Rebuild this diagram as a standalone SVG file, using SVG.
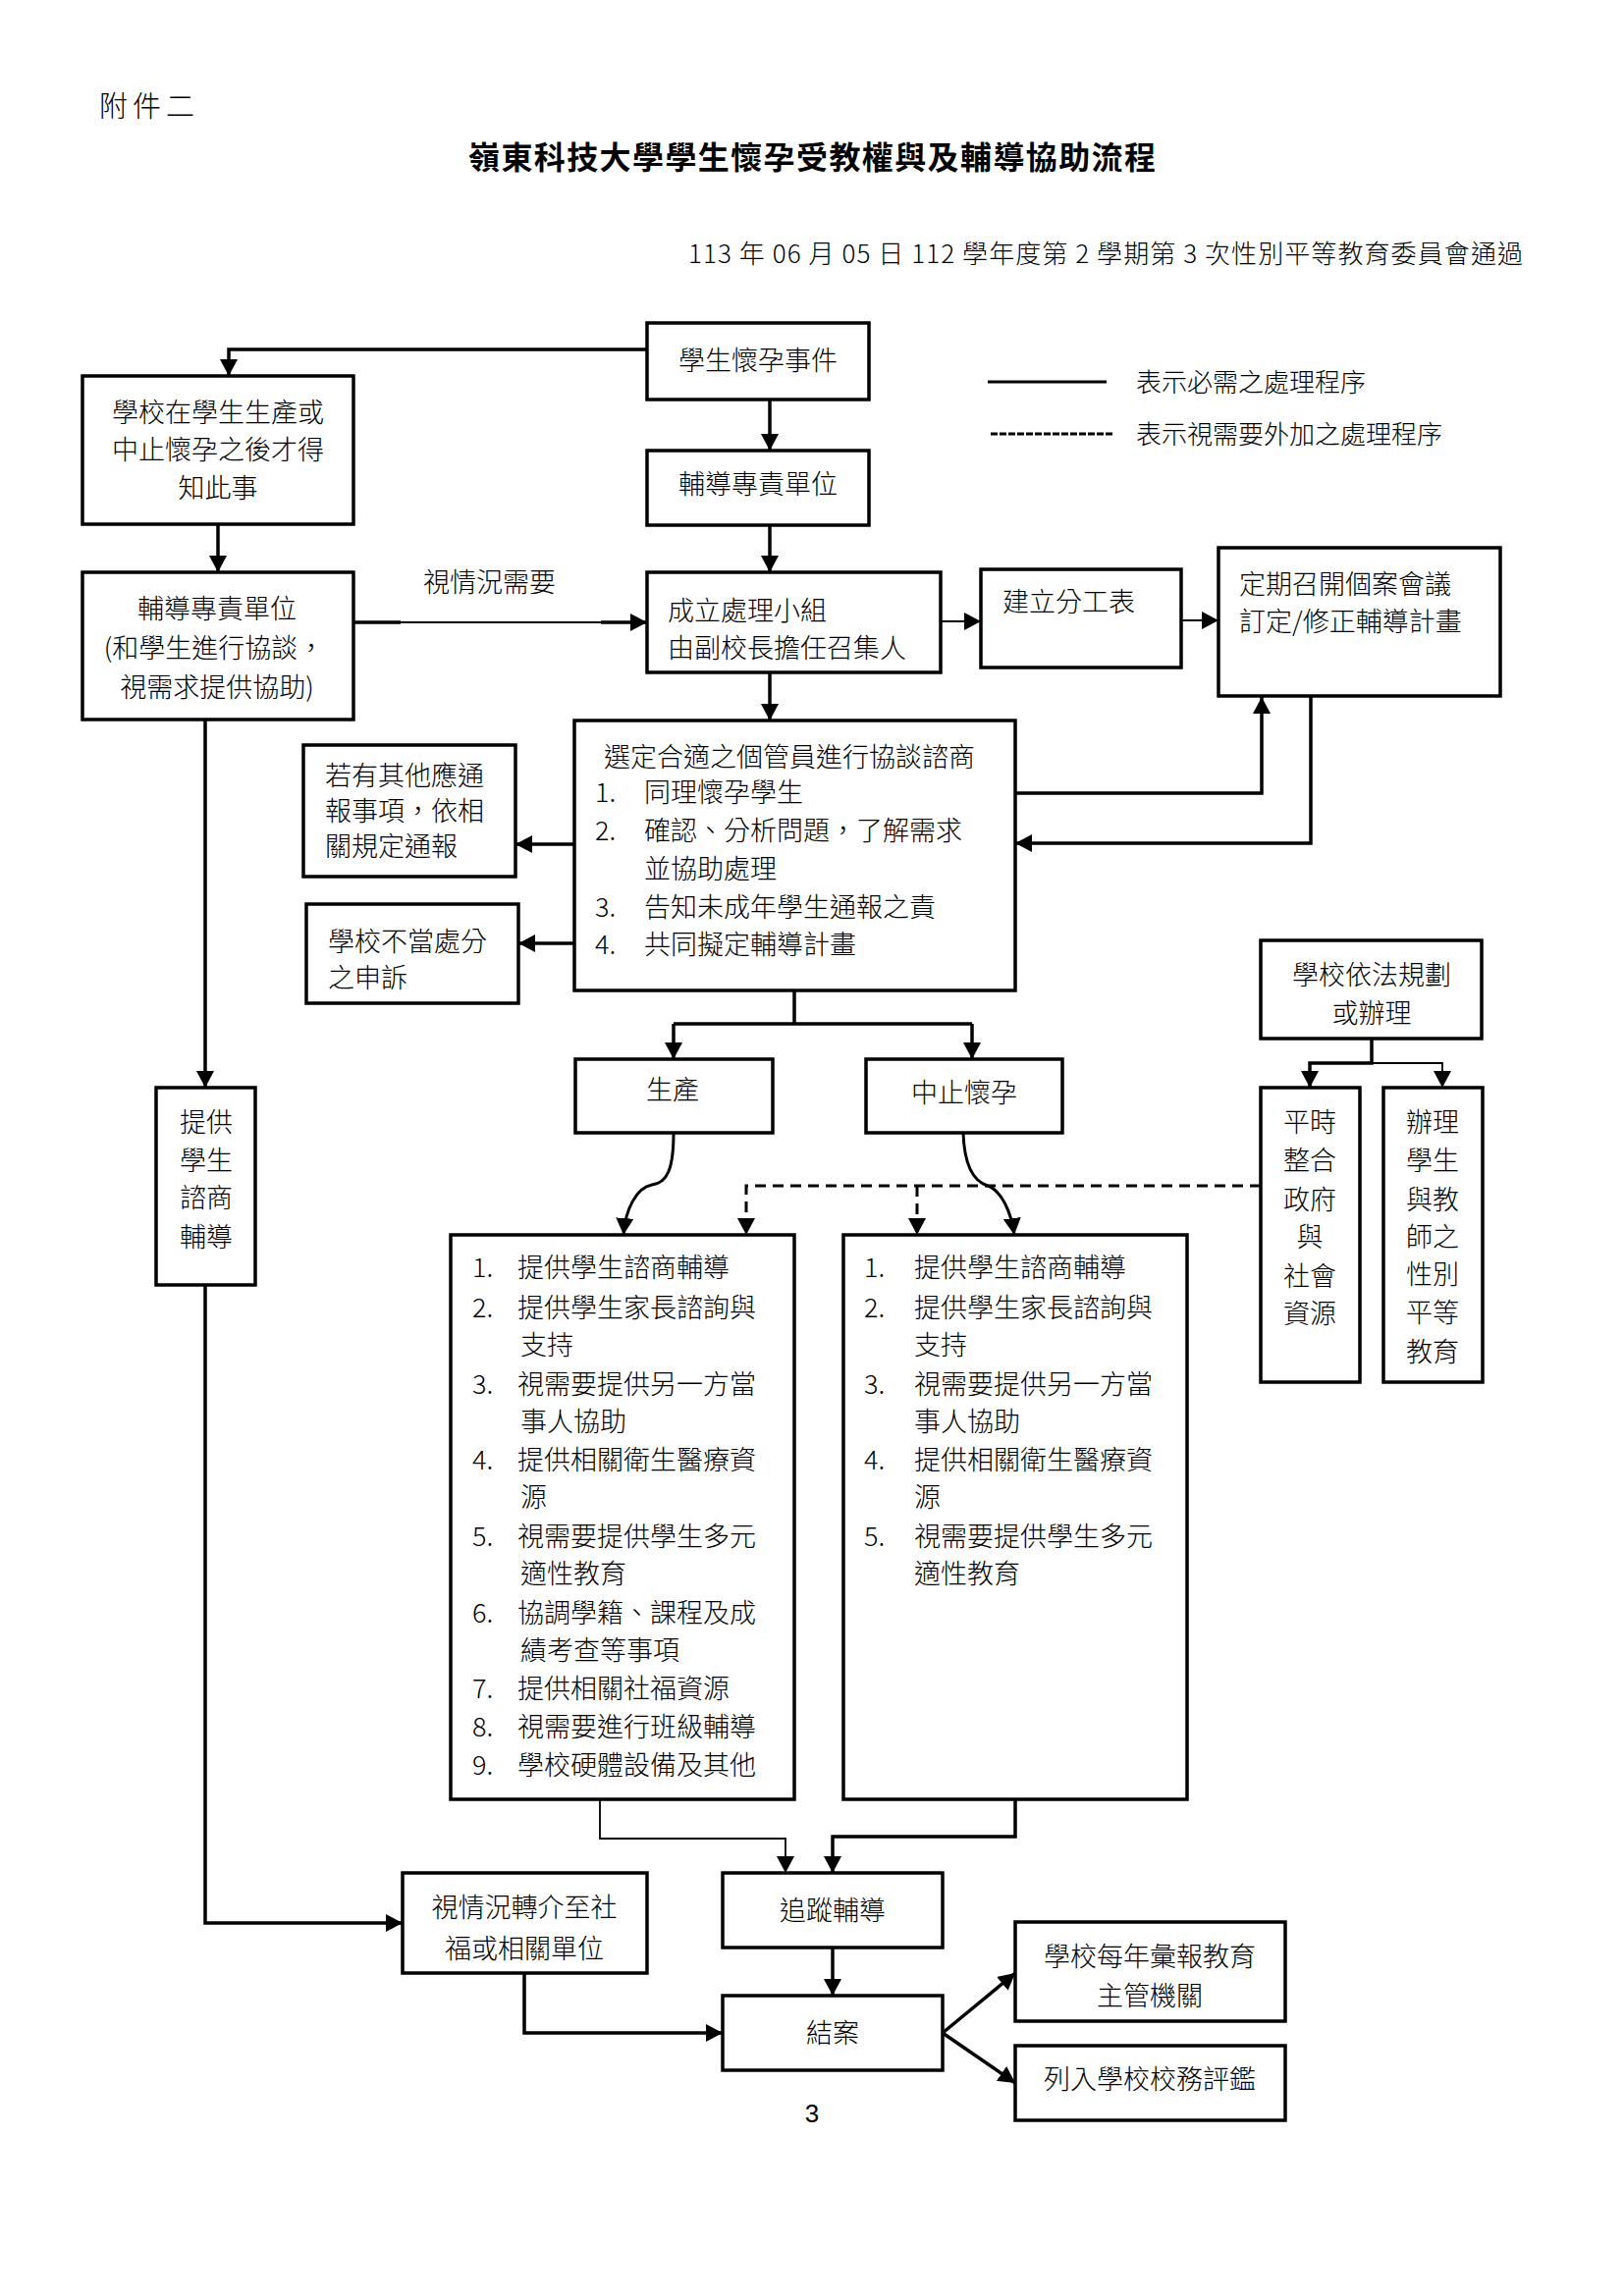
<svg xmlns="http://www.w3.org/2000/svg" width="1654" height="2339" viewBox="0 0 1654 2339">
<style>
.box{fill:#fff;stroke:#000;stroke-width:3.5}
.t{font-family:"Noto Sans CJK TC","Noto Sans CJK SC",sans-serif;font-size:27px;font-weight:300;fill:#000}
.c{text-anchor:middle}
.ln{fill:none;stroke:#000;stroke-width:3.5}
.thin{stroke-width:1.8}
.dash{stroke-dasharray:11 7;stroke-width:3}
</style>
<defs>
<marker id="ah" markerUnits="userSpaceOnUse" markerWidth="18" markerHeight="18" refX="17" refY="9" orient="auto"><path d="M0,0 L17,9 L0,18 z" fill="#000"/></marker>
</defs>
<rect width="1654" height="2339" fill="#fff"/>

<g id="header">
<text class="t" x="101" y="119" style="font-size:29px" textLength="97" lengthAdjust="spacing">附件二</text>
<text class="t" x="477" y="172" style="font-size:32px;font-weight:bold" textLength="700" lengthAdjust="spacing">嶺東科技大學學生懷孕受教權與及輔導協助流程</text>
<text class="t" x="701" y="268" style="font-size:26px" textLength="850" lengthAdjust="spacing">113 年 06 月 05 日 112 學年度第 2 學期第 3 次性別平等教育委員會通過</text>
</g>

<g id="legend">
<line x1="1006" y1="389" x2="1127" y2="389" class="ln" style="stroke-width:3"/>
<text class="t" x="1157" y="399" style="font-size:26px">表示必需之處理程序</text>
<line x1="1009" y1="442" x2="1135" y2="442" class="ln" style="stroke-width:3;stroke-dasharray:7 2"/>
<text class="t" x="1157" y="452" style="font-size:26px">表示視需要外加之處理程序</text>
</g>

<g id="connectors">
<path class="ln" d="M659,356 H233 V383" marker-end="url(#ah)"/>
<path class="ln" d="M784,407 V459" marker-end="url(#ah)"/>
<path class="ln" d="M784,535 V583" marker-end="url(#ah)"/>
<path class="ln" d="M784,685 V734" marker-end="url(#ah)"/>
<path class="ln" d="M222,534 V583" marker-end="url(#ah)"/>
<path class="ln" d="M360,634 H408"/>
<path class="ln thin" d="M408,634 H612"/>
<path class="ln" d="M612,634 H659" marker-end="url(#ah)"/>
<path class="ln" style="stroke-width:2" d="M958,633 H999" marker-end="url(#ah)"/>
<path class="ln thin" d="M1203,632 H1241" marker-end="url(#ah)"/>
<path class="ln" d="M1034,808 H1285 V710" marker-end="url(#ah)"/>
<path class="ln" d="M1335,710 V859 H1034" marker-end="url(#ah)"/>
<path class="ln" d="M585,860 H525" marker-end="url(#ah)"/>
<path class="ln" d="M585,961 H528" marker-end="url(#ah)"/>
<path class="ln" d="M809,1009 V1043"/>
<path class="ln" d="M686,1043 H990"/>
<path class="ln" d="M686,1043 V1079" marker-end="url(#ah)"/>
<path class="ln" d="M990,1043 V1079" marker-end="url(#ah)"/>
<path class="ln" style="stroke-width:3" d="M686,1154 C686,1190 680,1205 664,1207 C648,1210 637,1232 635,1258" marker-end="url(#ah)"/>
<path class="ln" style="stroke-width:3" d="M981,1154 C982,1185 990,1203 1006,1208 C1020,1213 1030,1235 1033,1258" marker-end="url(#ah)"/>
<path class="ln dash" d="M1284,1208 H760 V1258" marker-end="url(#ah)"/>
<path class="ln dash" d="M934,1208 V1258" marker-end="url(#ah)"/>
<path class="ln" d="M209,733 V1108" marker-end="url(#ah)"/>
<path class="ln" d="M209,1309 V1959 H410" marker-end="url(#ah)"/>
<path class="ln thin" d="M611,1833 V1873 H800 V1908" marker-end="url(#ah)"/>
<path class="ln" d="M1034,1833 V1871 H848 V1908" marker-end="url(#ah)"/>
<path class="ln" d="M848,1984 V2033" marker-end="url(#ah)"/>
<path class="ln" d="M534,2010 V2071 H736" marker-end="url(#ah)"/>
<path class="ln" d="M960,2071 L1034,2010" marker-end="url(#ah)"/>
<path class="ln" d="M960,2071 L1034,2122" marker-end="url(#ah)"/>
<path class="ln" d="M1397,1058 V1083 H1334 V1108" marker-end="url(#ah)"/>
<path class="ln thin" d="M1397,1083 H1469 V1108" marker-end="url(#ah)"/>
<text class="t" x="431" y="603">視情況需要</text>
</g>

<g id="n-event">
<rect class="box" x="659" y="329" width="226" height="78"/>
<text class="t c" x="772" y="377">學生懷孕事件</text>
</g>
<g id="n-late">
<rect class="box" x="84" y="383" width="276" height="151"/>
<text class="t c" x="222" y="430">學校在學生生產或</text>
<text class="t c" x="222" y="468">中止懷孕之後才得</text>
<text class="t c" x="222" y="507">知此事</text>
</g>
<g id="n-unit-left">
<rect class="box" x="84" y="583" width="276" height="150"/>
<text class="t c" x="221" y="630">輔導專責單位</text>
<text class="t c" x="218" y="670">(和學生進行協談，</text>
<text class="t c" x="221" y="710">視需求提供協助)</text>
</g>
<g id="n-unit">
<rect class="box" x="659" y="459" width="226" height="76"/>
<text class="t c" x="772" y="503">輔導專責單位</text>
</g>
<g id="n-team">
<rect class="box" x="659" y="583" width="299" height="102"/>
<text class="t" x="680" y="632">成立處理小組</text>
<text class="t" x="680" y="670">由副校長擔任召集人</text>
</g>
<g id="n-division">
<rect class="box" x="999" y="580" width="204" height="100"/>
<text class="t" x="1021" y="623">建立分工表</text>
</g>
<g id="n-meeting">
<rect class="box" x="1241" y="558" width="287" height="151"/>
<text class="t" x="1262" y="605">定期召開個案會議</text>
<text class="t" x="1262" y="643">訂定/修正輔導計畫</text>
</g>
<g id="n-case">
<rect class="box" x="585" y="734" width="449" height="275"/>
<text class="t" x="615" y="781">選定合適之個管員進行協談諮商</text>
<text class="t" x="606" y="817">1.</text><text class="t" x="656" y="817">同理懷孕學生</text>
<text class="t" x="606" y="856">2.</text><text class="t" x="656" y="856">確認、分析問題，了解需求</text>
<text class="t" x="656" y="895">並協助處理</text>
<text class="t" x="606" y="934">3.</text><text class="t" x="656" y="934">告知未成年學生通報之責</text>
<text class="t" x="606" y="972">4.</text><text class="t" x="656" y="972">共同擬定輔導計畫</text>
</g>
<g id="n-report">
<rect class="box" x="309" y="759" width="216" height="134"/>
<text class="t" x="331" y="800">若有其他應通</text>
<text class="t" x="331" y="836">報事項，依相</text>
<text class="t" x="331" y="872">關規定通報</text>
</g>
<g id="n-appeal">
<rect class="box" x="312" y="921" width="216" height="101"/>
<text class="t" x="334" y="969">學校不當處分</text>
<text class="t" x="334" y="1006">之申訴</text>
</g>
<g id="n-birth">
<rect class="box" x="586" y="1079" width="201" height="75"/>
<text class="t c" x="685" y="1120">生產</text>
</g>
<g id="n-abort">
<rect class="box" x="882" y="1079" width="200" height="75"/>
<text class="t c" x="982" y="1123">中止懷孕</text>
</g>
<g id="n-law">
<rect class="box" x="1284" y="958" width="225" height="100"/>
<text class="t c" x="1397" y="1003">學校依法規劃</text>
<text class="t c" x="1397" y="1042">或辦理</text>
</g>
<g id="n-resource">
<rect class="box" x="1284" y="1108" width="101" height="300"/>
<text class="t c" x="1334" y="1153">平時</text>
<text class="t c" x="1334" y="1192">整合</text>
<text class="t c" x="1334" y="1232">政府</text>
<text class="t c" x="1334" y="1270">與</text>
<text class="t c" x="1334" y="1310">社會</text>
<text class="t c" x="1334" y="1348">資源</text>
</g>
<g id="n-education">
<rect class="box" x="1409" y="1108" width="101" height="300"/>
<text class="t c" x="1459" y="1153">辦理</text>
<text class="t c" x="1459" y="1192">學生</text>
<text class="t c" x="1459" y="1232">與教</text>
<text class="t c" x="1459" y="1270">師之</text>
<text class="t c" x="1459" y="1308">性別</text>
<text class="t c" x="1459" y="1347">平等</text>
<text class="t c" x="1459" y="1387">教育</text>
</g>
<g id="n-counsel">
<rect class="box" x="159" y="1108" width="101" height="201"/>
<text class="t c" x="210" y="1153">提供</text>
<text class="t c" x="210" y="1192">學生</text>
<text class="t c" x="210" y="1230">諮商</text>
<text class="t c" x="210" y="1270">輔導</text>
</g>
<g id="n-list-birth">
<rect class="box" x="459" y="1258" width="350" height="575"/>
<text class="t" x="481" y="1301">1.</text><text class="t" x="527" y="1301">提供學生諮商輔導</text>
<text class="t" x="481" y="1342">2.</text><text class="t" x="527" y="1342">提供學生家長諮詢與</text>
<text class="t" x="530" y="1380">支持</text>
<text class="t" x="481" y="1420">3.</text><text class="t" x="527" y="1420">視需要提供另一方當</text>
<text class="t" x="530" y="1458">事人協助</text>
<text class="t" x="481" y="1497">4.</text><text class="t" x="527" y="1497">提供相關衛生醫療資</text>
<text class="t" x="530" y="1535">源</text>
<text class="t" x="481" y="1575">5.</text><text class="t" x="527" y="1575">視需要提供學生多元</text>
<text class="t" x="530" y="1613">適性教育</text>
<text class="t" x="481" y="1653">6.</text><text class="t" x="527" y="1653">協調學籍、課程及成</text>
<text class="t" x="530" y="1691">績考查等事項</text>
<text class="t" x="481" y="1730">7.</text><text class="t" x="527" y="1730">提供相關社福資源</text>
<text class="t" x="481" y="1769">8.</text><text class="t" x="527" y="1769">視需要進行班級輔導</text>
<text class="t" x="481" y="1808">9.</text><text class="t" x="527" y="1808">學校硬體設備及其他</text>
</g>
<g id="n-list-abort">
<rect class="box" x="859" y="1258" width="350" height="575"/>
<text class="t" x="880" y="1301">1.</text><text class="t" x="931" y="1301">提供學生諮商輔導</text>
<text class="t" x="880" y="1342">2.</text><text class="t" x="931" y="1342">提供學生家長諮詢與</text>
<text class="t" x="931" y="1380">支持</text>
<text class="t" x="880" y="1420">3.</text><text class="t" x="931" y="1420">視需要提供另一方當</text>
<text class="t" x="931" y="1458">事人協助</text>
<text class="t" x="880" y="1497">4.</text><text class="t" x="931" y="1497">提供相關衛生醫療資</text>
<text class="t" x="931" y="1535">源</text>
<text class="t" x="880" y="1575">5.</text><text class="t" x="931" y="1575">視需要提供學生多元</text>
<text class="t" x="931" y="1613">適性教育</text>
</g>
<g id="n-referral">
<rect class="box" x="410" y="1908" width="249" height="102"/>
<text class="t c" x="534" y="1953">視情況轉介至社</text>
<text class="t c" x="534" y="1995">福或相關單位</text>
</g>
<g id="n-follow">
<rect class="box" x="736" y="1908" width="224" height="76"/>
<text class="t c" x="848" y="1956">追蹤輔導</text>
</g>
<g id="n-close">
<rect class="box" x="736" y="2033" width="224" height="76"/>
<text class="t c" x="848" y="2081">結案</text>
</g>
<g id="n-annual">
<rect class="box" x="1034" y="1958" width="275" height="101"/>
<text class="t c" x="1171" y="2003">學校每年彙報教育</text>
<text class="t c" x="1171" y="2043">主管機關</text>
</g>
<g id="n-eval">
<rect class="box" x="1034" y="2084" width="275" height="76"/>
<text class="t c" x="1171" y="2128">列入學校校務評鑑</text>
</g>
<text x="827" y="2162" style="font-family:'Liberation Sans',sans-serif;font-size:26px" text-anchor="middle">3</text>
</svg>
